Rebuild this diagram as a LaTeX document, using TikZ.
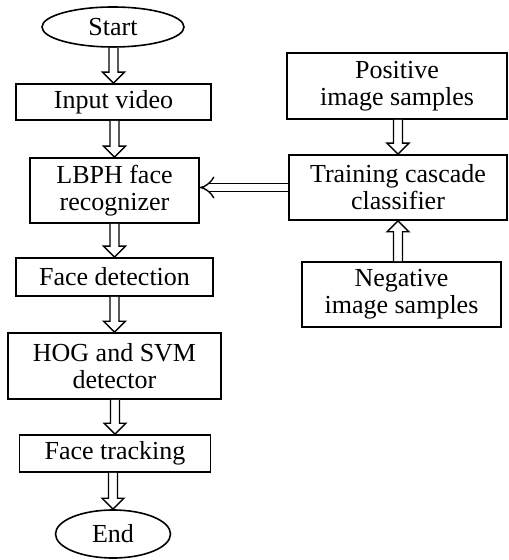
\documentclass[tikz,border=0pt]{standalone}
\usepackage{fontspec}
\setmainfont{Liberation Serif}
\usetikzlibrary{calc, shapes.geometric, arrows.meta, positioning}

\tikzset{
  stepbox/.style={draw, line width=0.8pt, align=center, inner sep=0pt,
    font=\fontsize{13}{13.5}\selectfont},
  termnode/.style={draw, ellipse, line width=0.8pt, inner sep=0pt,
    font=\fontsize{13}{13.5}\selectfont},
  flowarrow/.style={line width=0.7pt, fill=white},
}

% hollow block arrow, tip on the top (down) or bottom (up) of the second node
\newcommand{\arrowdown}[2]{%
  \draw[flowarrow] ($(#2.north |- #1.south)+(-4.5,0)$) -- ($(#2.north)+(-4.5,-11)$)
    -- ($(#2.north)+(-11,-11)$) -- (#2.north) -- ($(#2.north)+(11,-11)$)
    -- ($(#2.north)+(4.5,-11)$) -- ($(#2.north |- #1.south)+(4.5,0)$);}
\newcommand{\arrowup}[2]{%
  \draw[flowarrow] ($(#2.south |- #1.north)+(-4.5,0)$) -- ($(#2.south)+(-4.5,11)$)
    -- ($(#2.south)+(-11,11)$) -- (#2.south) -- ($(#2.south)+(11,11)$)
    -- ($(#2.south)+(4.5,11)$) -- ($(#2.south |- #1.north)+(4.5,0)$);}

\begin{document}
\begin{tikzpicture}[x=0.5pt, y=-0.5pt]
  \useasboundingbox (0,0) rectangle (508,560);

  % main flow
  \node[termnode, minimum width=71pt, minimum height=20pt] (start) at (113,27) {Start};
  \node[stepbox, minimum width=97.5pt, minimum height=18pt] (input) at (113.5,102) {Input video};
  \node[stepbox, minimum width=84.5pt, minimum height=32.5pt] (lbph) at (114.5,190.5) {LBPH face\\recognizer};
  \node[stepbox, minimum width=98.5pt, minimum height=19pt] (detect) at (114.5,277) {Face detection};
  \node[stepbox, minimum width=106.5pt, minimum height=33pt] (hog) at (114.5,366) {HOG and SVM\\detector};
  \node[stepbox, minimum width=95.5pt, minimum height=18.5pt] (track) at (115,453.5) {Face tracking};
  \node[termnode, minimum width=57.5pt, minimum height=24pt] (end) at (113,534) {End};

  % training side
  \node[stepbox, minimum width=110pt, minimum height=33pt] (pos) at (397,86) {Positive\\image samples};
  \node[stepbox, minimum width=109pt, minimum height=32.5pt] (train) at (398,187.5) {Training cascade\\classifier};
  \node[stepbox, minimum width=99.5pt, minimum height=32.5pt] (neg) at (401.5,294.5) {Negative\\image samples};

  % arrows
  \arrowdown{start}{input}
  \arrowdown{input}{lbph}
  \arrowdown{lbph}{detect}
  \arrowdown{detect}{hog}
  \arrowdown{hog}{track}
  \arrowdown{track}{end}
  \arrowdown{pos}{train}
  \arrowup{neg}{train}
  \draw[line width=0.7pt, double, double distance=3.2pt, -{Implies}] (train.west) -- (lbph.east |- train.west);
\end{tikzpicture}
\end{document}
